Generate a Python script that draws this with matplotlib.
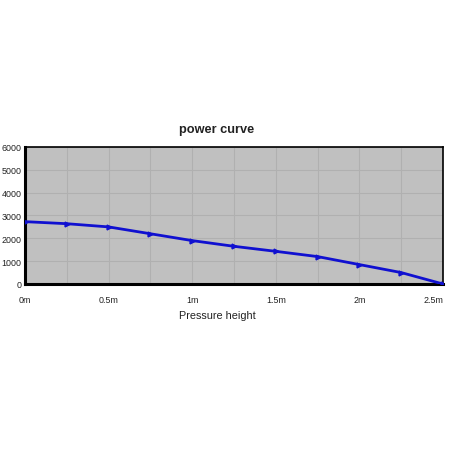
import matplotlib.pyplot as plt
import numpy as np

plt.rcParams['font.family'] = ['Liberation Sans', 'DejaVu Sans']

height = [0, 0.25, 0.5, 0.75, 1.0, 1.25, 1.5, 1.75, 2.0, 2.25, 2.5]
power = [2730, 2640, 2500, 2200, 1900, 1650, 1430, 1200, 850, 500, 0]
xtick_pos = [0, 0.5, 1.0, 1.5, 2.0, 2.5]
xtick_labels = ['0m', '0.5m', '1m', '1.5m', '2m', '2.5m']
ytick_pos = [0, 1000, 2000, 3000, 4000, 5000, 6000]

fig = plt.figure(figsize=(4.52, 4.52), dpi=100)
ax = fig.add_axes([0.0553, 0.3695, 0.9247, 0.3031])
ax.set_facecolor('#c0c0c0')

ax.plot(height, power, color='#1010d0', lw=2, marker='>', ms=3.5, zorder=3)

ax.set_xlim(0, 2.5)
ax.set_ylim(0, 6000)
ax.set_xticks(xtick_pos)
ax.set_xticklabels(xtick_labels)
ax.set_xticks(np.arange(0, 2.51, 0.25), minor=True)
ax.set_yticks(ytick_pos)
ax.grid(True, which='both', color='#b0b0b0', lw=0.8)
ax.tick_params(axis='both', which='both', length=0, labelsize=6.4, colors='#222222')
ax.tick_params(axis='x', pad=8)
ax.tick_params(axis='y', pad=2.5)
# keep the last x label inside the canvas
ax.get_xticklabels()[-1].set_horizontalalignment('right')
ax.get_xticklabels()[-1].set_x(2.5)

for side in ['top', 'right']:
    ax.spines[side].set_linewidth(1.2)
for side in ['left', 'bottom']:
    ax.spines[side].set_linewidth(2.2)

fig.text(0.48, 0.713, 'power curve', ha='center', va='center', fontsize=9.2, fontweight='bold', color='#222222')
fig.text(0.48, 0.30, 'Pressure height', ha='center', va='center', fontsize=7.8, color='#222222')

fig.savefig('out.png', dpi=100)
